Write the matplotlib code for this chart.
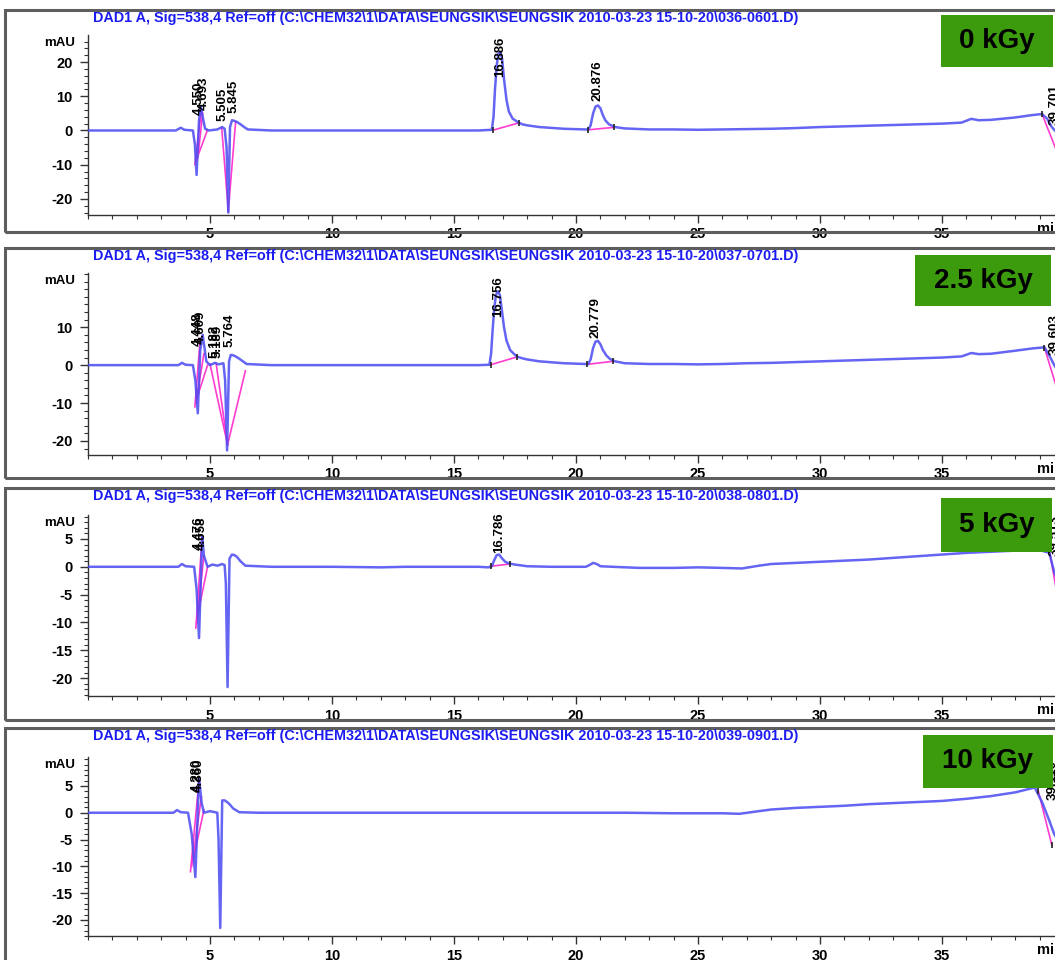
import matplotlib
matplotlib.use("Agg")
import matplotlib.pyplot as plt
from matplotlib.patches import Rectangle
from matplotlib.ticker import MultipleLocator

plt.rcParams["font.family"] = ["Liberation Sans", "DejaVu Sans"]
plt.rcParams["axes.unicode_minus"] = False

W, H = 1055, 960

# ---- chromatogram data (time in min, signal in mAU) ----
doses = ["0 kGy", "2.5 kGy", "5 kGy", "10 kGy"]
files = ["036-0601.D", "037-0701.D", "038-0801.D", "039-0901.D"]

t0 = [0, 3.6, 3.8, 3.95, 4.3, 4.38, 4.45, 4.55, 4.62, 4.7, 4.8, 4.95, 5.3, 5.5, 5.6,
      5.68, 5.75, 5.82, 5.9, 6.0, 6.1, 6.25, 6.4, 6.55, 7.5, 10, 13, 16.0, 16.55,
      16.62, 16.68, 16.75, 16.82, 16.9, 16.97, 17.05, 17.15, 17.25, 17.4, 17.6, 17.8,
      18.0, 18.5, 19.5, 20.4, 20.5, 20.6, 20.7, 20.8, 20.9, 21.0, 21.1, 21.2, 21.35,
      21.6, 22.0, 23, 24, 25, 26, 27, 28, 29, 30, 31, 32, 33, 34, 35, 35.8, 36.2,
      36.5, 37, 38, 38.7, 39.1, 39.3, 39.5, 40]
v0 = [0, 0, 0.8, 0.2, 0, -4, -13, 3, 7, 4, 0.5, 0, 0.3, 1, 0.5,
      -5, -24, 1, 3, 2.8, 2.5, 1.8, 1.0, 0.3, 0, 0, 0, 0, 0.2,
      4, 12, 19, 22.5, 23, 21, 15, 9, 5.5, 3.5, 2.5, 1.8,
      1.5, 1, 0.5, 0.3, 0.3, 1.5, 5, 7, 7.3, 6.5, 4.5, 3, 1.8,
      1.0, 0.6, 0.3, 0.3, 0.2, 0.3, 0.4, 0.5, 0.7, 1, 1.2, 1.4, 1.6, 1.8, 2.0, 2.3, 3.4,
      3.0, 3.1, 3.8, 4.5, 4.8, 3.5, 1, -3]

t25 = [0, 3.7, 3.85, 4.0, 4.3, 4.4, 4.5, 4.6, 4.7, 4.85, 5.0, 5.2, 5.35, 5.55, 5.62,
       5.7, 5.78, 5.85, 5.95, 6.05, 6.2, 6.35, 6.5, 7.5, 10, 13, 16.0, 16.45, 16.52,
       16.58, 16.65, 16.72, 16.8, 16.88, 16.95, 17.05, 17.15, 17.3, 17.45, 17.6, 17.8,
       18.0, 18.5, 19.5, 20.4, 20.5, 20.6, 20.7, 20.8, 20.9, 21.0, 21.1, 21.25, 21.4,
       21.6, 22, 23, 24, 25, 26, 27, 28, 29, 30, 31, 32, 33, 34, 35, 35.8, 36.2, 36.5,
       37, 38, 38.7, 39.2, 39.4, 39.6, 40]
v25 = [0, 0, 0.6, 0.1, 0, -4, -12.7, 4, 8, 1, 0, 0.6, 0.2, 0.5, -4,
       -22.5, 1, 2.7, 2.6, 2.3, 1.7, 1.0, 0.3, 0, 0, 0, 0, 0.1, 3,
       9, 15, 18.5, 19.5, 18.5, 15, 10, 6.5, 4, 3, 2.2, 1.8,
       1.5, 1, 0.5, 0.3, 0.3, 1.5, 4.5, 6.2, 6.4, 5.5, 4, 2.5, 1.6,
       1.0, 0.5, 0.3, 0.3, 0.2, 0.3, 0.5, 0.6, 0.8, 1.0, 1.2, 1.4, 1.6, 1.8, 2.0, 2.3, 3.2,
       2.9, 3.0, 3.8, 4.4, 4.7, 2.5, 0, -4]

t5 = [0, 3.7, 3.85, 4.0, 4.35, 4.45, 4.55, 4.68, 4.75, 4.9, 5.1, 5.3, 5.5, 5.6, 5.65,
      5.72, 5.8, 5.9, 6.0, 6.1, 6.25, 6.45, 7.5, 10, 12, 13, 16.0, 16.4, 16.55, 16.65,
      16.75, 16.85, 16.95, 17.1, 17.25, 17.5, 18, 19, 20.4, 20.55, 20.7, 20.85, 21.0,
      21.5, 22.6, 24, 25, 26, 26.8, 27.5, 28, 29, 30, 31, 32, 33, 34, 35, 36, 37, 38,
      39.0, 39.4, 39.6, 40]
v5 = [0, 0, 0.5, 0.1, 0, -4, -12.8, 5.5, 2, 0, 0.4, 0.2, 0.5, 0.3, -3,
      -21.6, 1.5, 2.2, 2.1, 1.8, 1.0, 0.2, 0, 0, -0.1, 0, 0, -0.1, 0.1, 1.2,
      2.1, 2.2, 1.6, 0.9, 0.6, 0.4, 0.1, 0, 0, 0.3, 0.7, 0.5, 0.1,
      0, -0.2, -0.2, -0.1, -0.2, -0.3, 0.2, 0.5, 0.7, 0.9, 1.1, 1.3, 1.6, 1.9, 2.2, 2.5, 2.7, 2.9,
      3.0, 2.5, -1, -5]

t10 = [0, 3.5, 3.65, 3.8, 4.1, 4.25, 4.4, 4.55, 4.65, 4.75, 5.0, 5.3, 5.35, 5.42, 5.5,
       5.6, 5.7, 5.8, 5.95, 6.2, 7, 10, 12, 14, 16, 18, 20, 22, 24, 25, 26, 26.7, 27.5,
       28, 29, 30, 31, 32, 33, 34, 35, 36, 37, 38, 38.8, 39.1, 39.4, 39.6, 40]
v10 = [0, 0, 0.5, 0.1, 0, -4, -12, 6.7, 2, 0, 0.3, 0, -5, -21.5, 2.3,
       2.3, 2.0, 1.6, 0.8, 0.1, 0, 0, 0, 0, 0, 0, 0, 0, -0.1, -0.1, -0.1, -0.2, 0.3,
       0.6, 0.9, 1.1, 1.3, 1.6, 1.8, 2.0, 2.2, 2.6, 3.1, 3.8, 4.7, 2.0, -1.5, -4, -7]

# integration baselines (pairs of (t, v) end points)
base0 = [[(4.38, -10), (4.65, 6)], [(4.42, -9), (4.9, 0.2)], [(4.5, -8), (4.7, 5)],
         [(5.48, 0.8), (5.75, -23.5)], [(5.75, -23.5), (6.05, 2.5)],
         [(16.6, 0.1), (17.65, 2.2)], [(20.5, 0.2), (21.55, 0.9)], [(39.1, 4.8), (39.7, -6)]]
base25 = [[(4.38, -11), (4.6, 7)], [(4.42, -10), (4.75, 3)], [(4.45, -9), (4.9, 0)],
          [(5.0, 0.3), (5.72, -21)], [(5.25, 0.5), (5.72, -21)], [(5.72, -21), (6.45, -1.5)],
          [(16.5, 0.1), (17.6, 2.2)], [(20.45, 0.2), (21.5, 1.0)], [(39.2, 4.6), (39.7, -6)]]
base5 = [[(4.42, -11), (4.68, 5.5)], [(4.45, -10), (4.75, 2)], [(4.48, -9), (4.9, 0)],
         [(16.5, 0.1), (17.3, 0.5)], [(39.4, 3), (39.8, -7)]]
base10 = [[(4.2, -11), (4.55, 6)], [(4.25, -10), (4.65, 3)], [(4.3, -9), (4.75, 0.5)],
          [(38.95, 4.0), (39.5, -6)]]

# retention time labels: (text, t, v)
peaks0 = [("4.550", 4.55, 4.4), ("4.693", 4.75, 6.0), ("5.505", 5.5, 2.9), ("5.845", 5.95, 5.0),
          ("16.886", 16.9, 15.5), ("20.876", 20.88, 8.7), ("39.701", 39.6, 1.5)]
peaks25 = [("4.448", 4.48, 5.0), ("4.609", 4.62, 5.5), ("5.182", 5.2, 2.0), ("5.189", 5.3, 2.0),
           ("5.764", 5.8, 4.8), ("16.756", 16.8, 12.7), ("20.779", 20.8, 7.2), ("39.603", 39.6, 2.7)]
peaks5 = [("4.476", 4.55, 3.0), ("4.658", 4.65, 3.0), ("16.786", 16.85, 2.5), ("39.513", 39.6, 2.0)]
peaks10 = [("4.280", 4.45, 3.9), ("4.360", 4.55, 3.9), ("39.110", 39.55, 2.4)]

traces = [(t0, v0), (t25, v25), (t5, v5), (t10, v10)]
bases = [base0, base25, base5, base10]
peaks = [peaks0, peaks25, peaks5, peaks10]
yticks = [[20, 10, 0, -10, -20], [10, 0, -10, -20],
          [5, 0, -5, -10, -15, -20], [5, 0, -5, -10, -15, -20]]
ylims = [(-24.7, 27.9), (-23.7, 24.3), (-23.2, 9.3), (-23.0, 10.4)]

# ---- layout in pixels ----
frames = [(10, 232), (248, 478), (488, 720), (728, 962)]
axes_px = [(35, 215), (273, 455), (515, 696), (757, 936)]
title_y = [18, 256, 496, 736]
boxes = [(941, 15, 1053, 67), (915, 255, 1051, 306), (941, 498, 1052, 552), (923, 735, 1053, 788)]

BLUE = "#4a4af2"
MAG = "#ff3ccf"
GREEN = "#3b9b0c"

fig = plt.figure(figsize=(W / 100, H / 100), dpi=100)


def fx(px):
    return px / W


def fy(py):
    return 1 - py / H


for i in range(4):
    ftop, fbot = frames[i]
    fig.patches.append(Rectangle((fx(5), fy(fbot)), fx(1100), (fbot - ftop) / H,
                                 transform=fig.transFigure, fill=False,
                                 edgecolor="#5e5e5e", linewidth=2.2))

    atop, abot = axes_px[i]
    ax = fig.add_axes([fx(88), fy(abot), fx(1000), (abot - atop) / H])
    ax.patch.set_visible(False)
    ax.set_xlim(0, 1000 / 24.4)
    ax.set_ylim(*ylims[i])

    t, v = traces[i]
    for seg in bases[i]:
        ax.plot([seg[0][0], seg[1][0]], [seg[0][1], seg[1][1]], color=MAG, lw=1.2, zorder=2)
        # small start/stop marks of the integration
        if seg[0][0] > 10:
            ax.plot([seg[0][0], seg[1][0]], [seg[0][1], seg[1][1]], ls="none",
                    marker="|", ms=5, mew=1.2, color="#222222", zorder=4)
    ax.plot(t, v, color=BLUE, lw=1.8, alpha=0.85, zorder=3)

    for s, pt, pv in peaks[i]:
        ax.text(pt, pv, s, rotation=90, ha="center", va="bottom", fontsize=9.5,
                fontweight="bold", color="black", zorder=4)

    for side in ("top", "right"):
        ax.spines[side].set_visible(False)
    for side in ("left", "bottom"):
        ax.spines[side].set_linewidth(1.0)
        ax.spines[side].set_color("#333333")

    ax.set_xticks(range(5, 40, 5))
    ax.xaxis.set_minor_locator(MultipleLocator(1))
    ax.set_yticks(yticks[i])
    ax.yaxis.set_minor_locator(MultipleLocator(2 if i < 2 else 1))
    ax.tick_params(which="major", length=6, width=1, color="#333333", labelsize=10.5, pad=3)
    ax.tick_params(which="minor", length=3, width=0.8, color="#333333")
    ax.tick_params(axis="y", pad=5)
    for lab in ax.get_xticklabels() + ax.get_yticklabels():
        lab.set_fontweight("bold")

    ax.annotate("mAU", xy=(0, 1), xycoords="axes fraction", xytext=(-13, -8),
                textcoords="offset pixels", ha="right", va="center",
                fontsize=9.5, fontweight="bold")
    ax.annotate("min", xy=(38.9, 0), xycoords=("data", "axes fraction"), xytext=(0, -14),
                textcoords="offset pixels", ha="left", va="center",
                fontsize=10.5, fontweight="bold")

    fig.text(fx(93), fy(title_y[i]),
             "DAD1 A, Sig=538,4 Ref=off (C:\\CHEM32\\1\\DATA\\SEUNGSIK\\SEUNGSIK "
             "2010-03-23 15-10-20\\" + files[i] + ")",
             ha="left", va="center", fontsize=10.4, fontweight="bold", color="#1c1cf0")

    x0, y0, x1, y1 = boxes[i]
    fig.patches.append(Rectangle((fx(x0), fy(y1)), (x1 - x0) / W, (y1 - y0) / H,
                                 transform=fig.transFigure, facecolor=GREEN,
                                 edgecolor="none", zorder=5))
    fig.text(fx((x0 + x1) / 2), fy((y0 + y1) / 2), doses[i], ha="center", va="center",
             fontsize=20, fontweight="bold", color="black", zorder=6)

fig.savefig("out.png", dpi=100)
